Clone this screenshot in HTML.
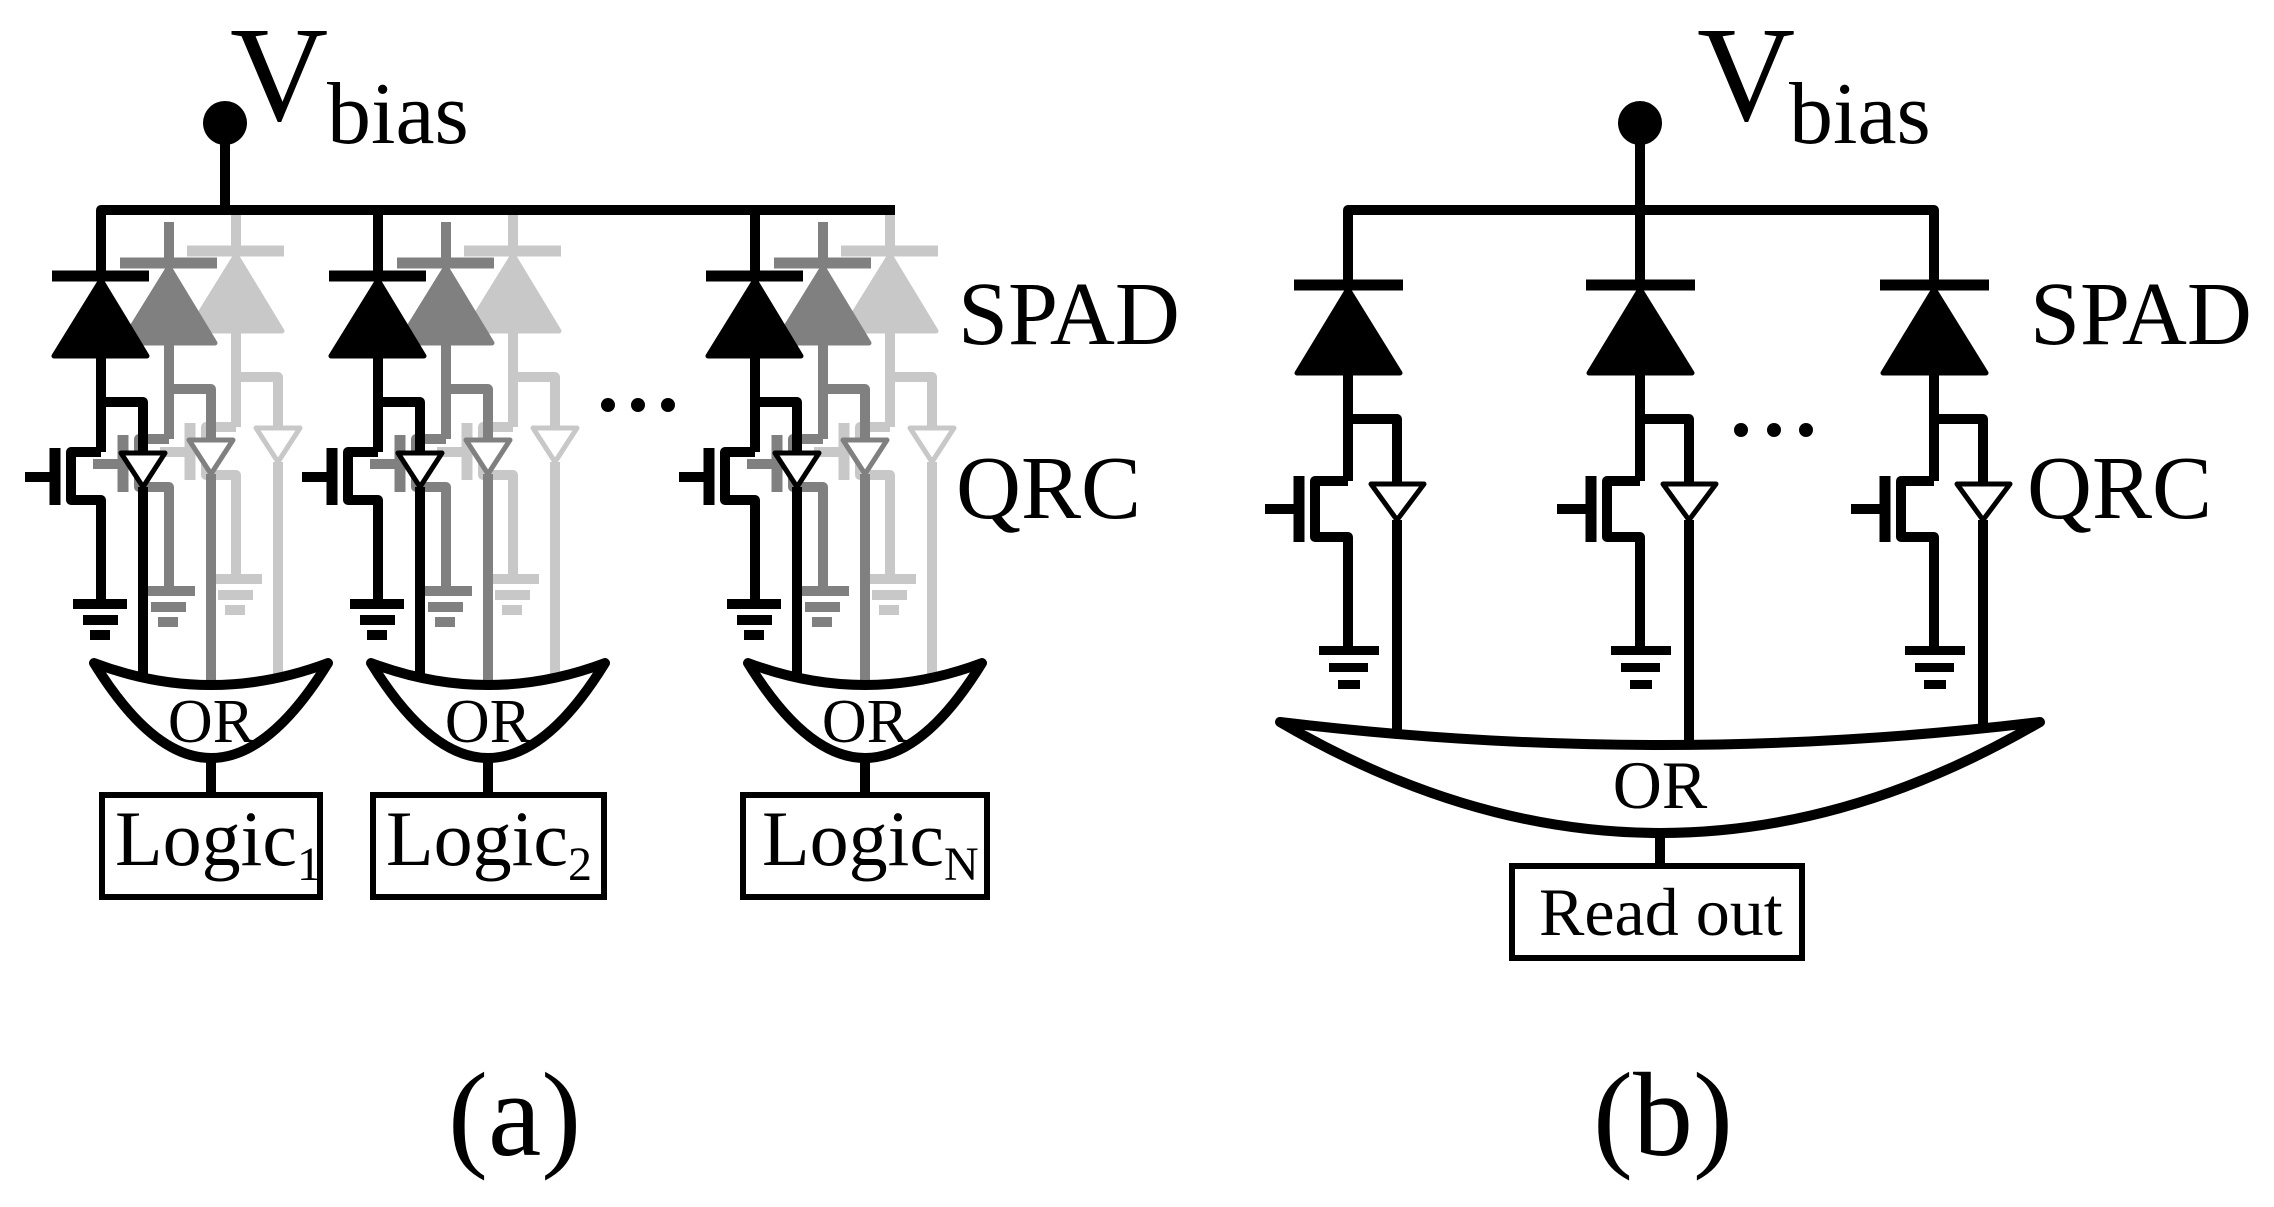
<!DOCTYPE html>
<html><head><meta charset="utf-8"><style>
html,body{margin:0;padding:0;background:#fff;}
svg{display:block;}
text{font-family:"Liberation Serif","Times New Roman",Times,serif;fill:#000;}
</style></head><body>
<svg width="2274" height="1207" viewBox="0 0 2274 1207" xmlns="http://www.w3.org/2000/svg" font-family="Liberation Serif, Times New Roman, serif">
<defs>
  <g id="cellA" stroke-linecap="butt" stroke-linejoin="round">
    <line x1="101" y1="235" x2="101" y2="276" stroke="currentColor" stroke-width="10"/>
    <line x1="52" y1="276" x2="149" y2="276" stroke="currentColor" stroke-width="11"/>
    <polygon points="101,280 54,356 147,356" fill="currentColor" stroke="currentColor" stroke-width="5"/>
    <line x1="101" y1="356" x2="101" y2="452" stroke="currentColor" stroke-width="10"/>
    <polyline points="101,402 143,402 143,454" fill="none" stroke="currentColor" stroke-width="10"/>
    <polyline points="101,452 71,452 71,500 101,500 101,604" fill="none" stroke="currentColor" stroke-width="10"/>
    <line x1="55" y1="448" x2="55" y2="505" stroke="currentColor" stroke-width="11"/>
    <line x1="25" y1="477" x2="55" y2="477" stroke="currentColor" stroke-width="10"/>
    <rect x="73" y="599" width="54" height="10" fill="currentColor"/>
    <rect x="83" y="615" width="35" height="10" fill="currentColor"/>
    <rect x="90" y="630" width="20" height="10" fill="currentColor"/>
    <line x1="143" y1="487" x2="143" y2="700" stroke="currentColor" stroke-width="10"/>
    <polygon points="121,453 165,453 143,487" fill="#fff" stroke="currentColor" stroke-width="5"/>
  </g>
  <g id="colB" stroke-linejoin="round">
    <line x1="1348" y1="210" x2="1348" y2="285" stroke="#000" stroke-width="10"/>
    <line x1="1294" y1="285" x2="1403" y2="285" stroke="#000" stroke-width="11"/>
    <polygon points="1348,289 1297,373 1400,373" fill="#000" stroke="#000" stroke-width="5"/>
    <line x1="1348" y1="373" x2="1348" y2="481" stroke="#000" stroke-width="10"/>
    <polyline points="1348,419 1397,419 1397,484" fill="none" stroke="#000" stroke-width="10"/>
    <polyline points="1348,481 1315,481 1315,537 1348,537 1348,651" fill="none" stroke="#000" stroke-width="10"/>
    <line x1="1299" y1="476" x2="1299" y2="542" stroke="#000" stroke-width="11"/>
    <line x1="1265" y1="509" x2="1299" y2="509" stroke="#000" stroke-width="10"/>
    <rect x="1319" y="646" width="60" height="9" fill="#000"/>
    <rect x="1329" y="663" width="39" height="9" fill="#000"/>
    <rect x="1338" y="680" width="22" height="9" fill="#000"/>
    <line x1="1397" y1="520" x2="1397" y2="740" stroke="#000" stroke-width="10"/>
    <polygon points="1371,484 1424,484 1397,520" fill="#fff" stroke="#000" stroke-width="5"/>
  </g>
</defs>

<!-- Panel (a) -->
<text x="230" y="120" font-size="136">V</text>
<text x="327" y="143" font-size="88">bias</text>
<circle cx="225" cy="123" r="22" fill="#000"/>
<line x1="225" y1="123" x2="225" y2="210" stroke="#000" stroke-width="10"/>

<use href="#cellA" transform="translate(135,-25)" style="color:#c8c8c8"/>
<use href="#cellA" transform="translate(412,-25)" style="color:#c8c8c8"/>
<use href="#cellA" transform="translate(789,-25)" style="color:#c8c8c8"/>
<use href="#cellA" transform="translate(68,-13)" style="color:#808080"/>
<use href="#cellA" transform="translate(345,-13)" style="color:#808080"/>
<use href="#cellA" transform="translate(722,-13)" style="color:#808080"/>
<use href="#cellA" style="color:#000"/>
<use href="#cellA" transform="translate(277,0)" style="color:#000"/>
<use href="#cellA" transform="translate(654,0)" style="color:#000"/>

<path d="M101,240 L101,210 L895,210" fill="none" stroke="#000" stroke-width="10" stroke-linejoin="round"/>
<line x1="378" y1="210" x2="378" y2="240" stroke="#000" stroke-width="10"/>
<line x1="755" y1="210" x2="755" y2="240" stroke="#000" stroke-width="10"/>

<g fill="#fff" stroke="#000" stroke-width="10" stroke-linejoin="round">
  <path d="M94,663 Q211,707 328,663 Q211,853 94,663 Z"/>
  <path d="M371,663 Q488,707 605,663 Q488,853 371,663 Z"/>
  <path d="M748,663 Q865,707 982,663 Q865,853 748,663 Z"/>
</g>
<g font-size="62" text-anchor="middle">
  <text x="211" y="742">OR</text>
  <text x="488" y="742">OR</text>
  <text x="865" y="742">OR</text>
</g>
<g stroke="#000" stroke-width="10">
  <line x1="211" y1="758" x2="211" y2="794"/>
  <line x1="488" y1="758" x2="488" y2="794"/>
  <line x1="865" y1="758" x2="865" y2="794"/>
</g>
<g fill="none" stroke="#000" stroke-width="6">
  <rect x="102" y="795" width="218" height="102"/>
  <rect x="373" y="795" width="231" height="102"/>
  <rect x="743" y="795" width="244" height="102"/>
</g>
<text x="115" y="865" font-size="78">Logic<tspan font-size="48" dy="15">1</tspan></text>
<text x="386" y="865" font-size="78">Logic<tspan font-size="48" dy="15">2</tspan></text>
<text x="762" y="865" font-size="78">Logic<tspan font-size="48" dy="15">N</tspan></text>

<circle cx="608" cy="405" r="7" fill="#000"/>
<circle cx="638" cy="405" r="7" fill="#000"/>
<circle cx="668" cy="405" r="7" fill="#000"/>

<text x="958" y="344" font-size="90">SPAD</text>
<text x="956" y="518" font-size="90">QRC</text>

<text x="448" y="1155" font-size="120">(a)</text>

<!-- Panel (b) -->
<text x="1697" y="120" font-size="136">V</text>
<text x="1789" y="143" font-size="88">bias</text>
<circle cx="1640" cy="123" r="22" fill="#000"/>
<line x1="1640" y1="123" x2="1640" y2="210" stroke="#000" stroke-width="10"/>
<path d="M1348,240 L1348,210 L1934,210 L1934,240" fill="none" stroke="#000" stroke-width="10" stroke-linejoin="round"/>
<use href="#colB"/>
<use href="#colB" transform="translate(292,0)"/>
<use href="#colB" transform="translate(586,0)"/>

<path d="M1280,722 Q1660,768 2040,722 Q1660,944 1280,722 Z" fill="#fff" stroke="#000" stroke-width="10" stroke-linejoin="round"/>
<text x="1660" y="808" font-size="68" text-anchor="middle">OR</text>
<line x1="1660" y1="832" x2="1660" y2="865" stroke="#000" stroke-width="10"/>
<rect x="1512" y="866" width="290" height="92" fill="none" stroke="#000" stroke-width="6"/>
<text x="1539" y="935" font-size="68">Read out</text>

<circle cx="1741" cy="430" r="7" fill="#000"/>
<circle cx="1774" cy="430" r="7" fill="#000"/>
<circle cx="1806" cy="430" r="7" fill="#000"/>

<text x="2030" y="344" font-size="90">SPAD</text>
<text x="2027" y="518" font-size="90">QRC</text>

<text x="1593" y="1155" font-size="120">(b)</text>
</svg>
</body></html>
